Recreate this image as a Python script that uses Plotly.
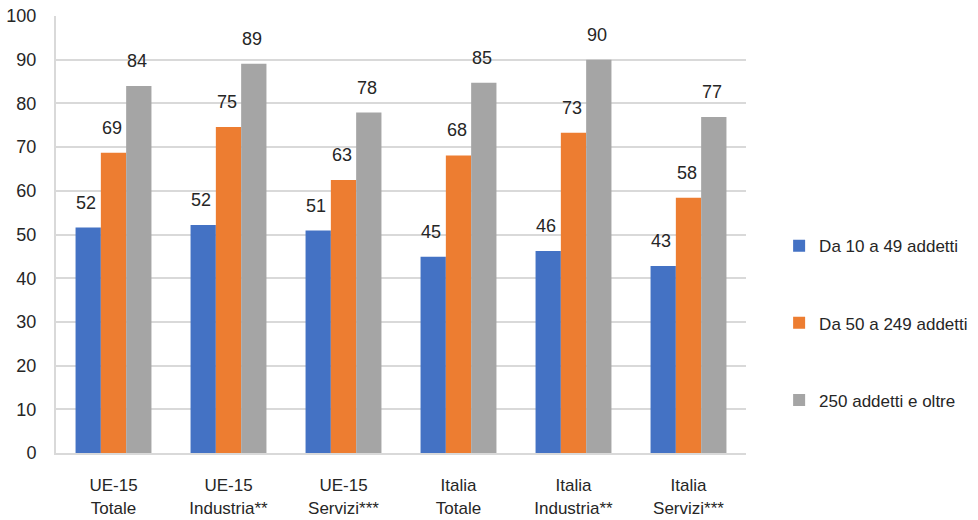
import plotly.graph_objects as go

categories = ["UE-15<br>Totale", "UE-15<br>Industria**", "UE-15<br>Servizi***",
              "Italia<br>Totale", "Italia<br>Industria**", "Italia<br>Servizi***"]
series_names = ["Da 10 a 49 addetti", "Da 50 a 249 addetti", "250 addetti e oltre"]
small = [51.6, 52.2, 50.9, 44.9, 46.2, 42.8]
medium = [68.7, 74.6, 62.5, 68.1, 73.3, 58.4]
large = [84.0, 89.1, 77.9, 84.7, 90.0, 76.9]
colors = ["#4472C4", "#ED7D31", "#A5A5A5"]

FONT = "Liberation Sans, Arial, sans-serif"
TXT = "#262626"

fig = go.Figure()
all_series = [small, medium, large]
for name, vals, col in zip(series_names, all_series, colors):
    fig.add_trace(go.Bar(x=categories, y=vals, name=name, marker=dict(color=col, line=dict(width=0)),
                         legendgroup=name))

shifts = [-25.5, 0, 25.5]
annotations = []
for vals, sh in zip(all_series, shifts):
    for c, v in zip(categories, vals):
        annotations.append(dict(x=c, y=v, text=str(int(v + 0.5)), showarrow=False,
                                xref="x", yref="y", yanchor="bottom", xshift=sh - 2, yshift=13,
                                font=dict(family=FONT, size=18, color=TXT)))

fig.update_layout(
    width=978, height=520,
    margin=dict(l=56, r=232, t=16, b=67, autoexpand=False),
    paper_bgcolor="white", plot_bgcolor="white",
    barmode="group", bargap=0.34, bargroupgap=0,
    font=dict(family=FONT, size=17, color=TXT),
    annotations=annotations,
    showlegend=True,
    legend=dict(x=1.048, xanchor="left", y=0.297, yanchor="middle",
                traceorder="grouped", tracegroupgap=52,
                font=dict(family=FONT, size=17, color=TXT), itemwidth=30),
    xaxis=dict(showline=True, linecolor="#D9D9D9", linewidth=2, ticks="", showgrid=False,
               automargin=False, ticklabelstandoff=16, ticklabeloverflow="allow",
               tickfont=dict(family=FONT, size=17, color=TXT)),
    yaxis=dict(range=[0, 100], dtick=10, showgrid=True, gridcolor="#D9D9D9", gridwidth=2,
               showline=True, linecolor="#D9D9D9", linewidth=2, zeroline=False, ticks="",
               automargin=False, ticklabelstandoff=14, ticklabeloverflow="allow",
               ticklen=0, tickfont=dict(family=FONT, size=18, color=TXT)),
)

fig.write_html("out.html", config={"displayModeBar": False},
               post_script="document.body.style.margin='0';")
